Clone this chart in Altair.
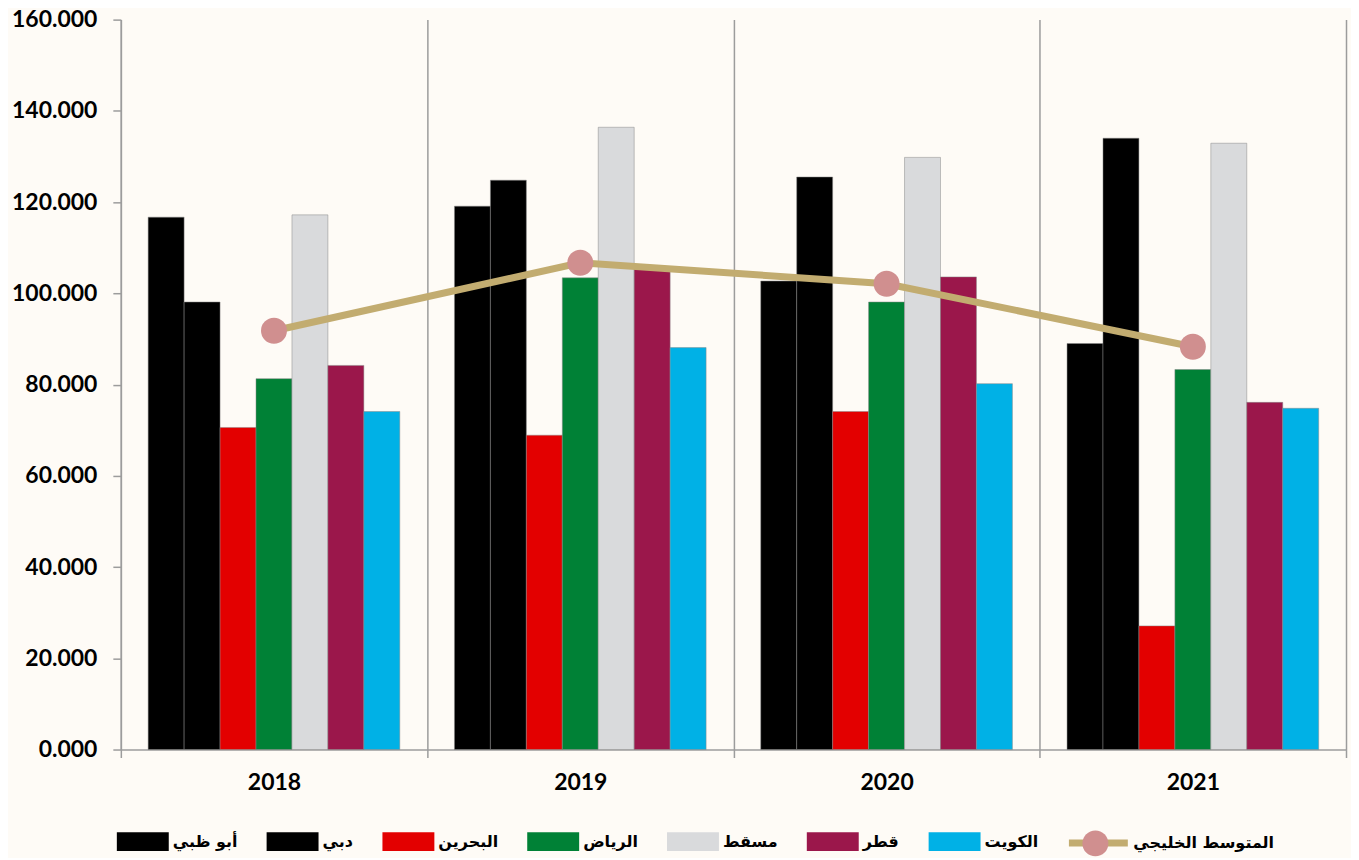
import altair as alt
import pandas as pd

years = ["2018", "2019", "2020", "2021"]
series = ["أبو ظبي", "دبي", "البحرين", "الرياض", "مسقط", "قطر", "الكويت"]
colors = ["#000000", "#000000", "#E30000", "#008136", "#D9DADC", "#9B174B", "#00B1E6"]

abu_dhabi = [116.7, 119.1, 102.7, 89.0]
dubai = [98.1, 124.8, 125.5, 134.0]
bahrain = [70.6, 68.9, 74.1, 27.1]
riyadh = [81.3, 103.4, 98.1, 83.3]
muscat = [117.2, 136.4, 129.8, 132.9]
qatar = [84.2, 105.4, 103.6, 76.1]
kuwait = [74.1, 88.1, 80.2, 74.8]
gulf_avg = [91.8, 106.7, 102.1, 88.3]
avg_label = "المتوسط الخليجي"
y_ticks = [0, 20, 40, 60, 80, 100, 120, 140, 160]

series_values = [abu_dhabi, dubai, bahrain, riyadh, muscat, qatar, kuwait]
rows = []
for name, vals in zip(series, series_values):
    for yr, v in zip(years, vals):
        rows.append({"year": yr, "series": name, "value": v})
bars_df = pd.DataFrame(rows)
avg_df = pd.DataFrame({"year": years, "value": gulf_avg,
                       "lbl": [avg_label] * 4, "lbl2": [" "] * 4})

GRID = "#9c9c9c"
x_enc = alt.X(
    "year:N", sort=years, title=None,
    scale=alt.Scale(paddingInner=0, paddingOuter=0),
    axis=alt.Axis(labelAngle=0, tickBand="extent", grid=True, gridColor=GRID,
                  gridWidth=1.5, domainColor=GRID, domainWidth=1.5,
                  tickColor=GRID, tickWidth=1.5, tickSize=8,
                  labelFont="Lato", labelFontSize=23, labelFontWeight="bold",
                  labelColor="#000000", labelPadding=14),
)
y_enc = alt.Y(
    "value:Q", title=None,
    scale=alt.Scale(domain=[0, 160], nice=False),
    axis=alt.Axis(values=y_ticks, format=".3f", grid=False, domainColor=GRID,
                  domainWidth=1.5, tickColor=GRID, tickWidth=1.5, tickSize=8,
                  labelFont="Lato", labelFontSize=23, labelFontWeight="bold",
                  labelColor="#000000", labelPadding=16),
)

bars = alt.Chart(bars_df).mark_bar(stroke="#888888", strokeWidth=0.5).encode(
    x=x_enc,
    y=y_enc,
    xOffset=alt.XOffset("series:N", sort=series,
                        scale=alt.Scale(paddingInner=0, paddingOuter=0.76)),
    color=alt.Color(
        "series:N",
        scale=alt.Scale(domain=series, range=colors),
        legend=alt.Legend(title=None, orient="none", legendX=-4, legendY=797,
                          direction="horizontal", columns=7,
                          symbolType="M-1,-0.365H1V0.365H-1Z", symbolSize=2704,
                          symbolStrokeWidth=0, labelFont="DejaVu Sans",
                          labelFontSize=16, labelFontWeight="bold",
                          labelColor="#000000", labelOffset=4,
                          columnPadding=29, padding=0),
    ),
)

line = alt.Chart(avg_df).mark_line(strokeWidth=7).encode(
    x=x_enc,
    y=y_enc,
    stroke=alt.Stroke(
        "lbl:N",
        scale=alt.Scale(domain=[avg_label], range=["#C2AC70"]),
        legend=alt.Legend(title=None, orient="none", legendX=946, legendY=791.5,
                          direction="horizontal", symbolType="M-1,0H1",
                          symbolSize=3481, symbolStrokeWidth=7,
                          labelFont="DejaVu Sans", labelFontSize=16,
                          labelFontWeight="bold", labelColor="#000000",
                          labelOffset=2, padding=0),
    ),
)

points = alt.Chart(avg_df).mark_point(filled=True, size=676, opacity=1,
                                      color="#D08F8F").encode(
    x=x_enc,
    y=y_enc,
    shape=alt.Shape(
        "lbl2:N",
        scale=alt.Scale(domain=[" "], range=["circle"]),
        legend=alt.Legend(title=None, orient="none", legendX=963, legendY=812,
                          symbolSize=676, symbolFillColor="#D08F8F",
                          symbolStrokeWidth=0, symbolOpacity=1,
                          labelExpr="''", padding=0),
    ),
)

chart = alt.layer(bars, line, points).properties(
    width=1227, height=731, background="#FEFBF6",
    padding={"left": 113, "top": 11, "right": 5, "bottom": 108},
    autosize=alt.AutoSizeParams(type="none"),
).configure_view(stroke=None)

chart.save("out.html", embed_options={"renderer": "svg", "actions": False})
